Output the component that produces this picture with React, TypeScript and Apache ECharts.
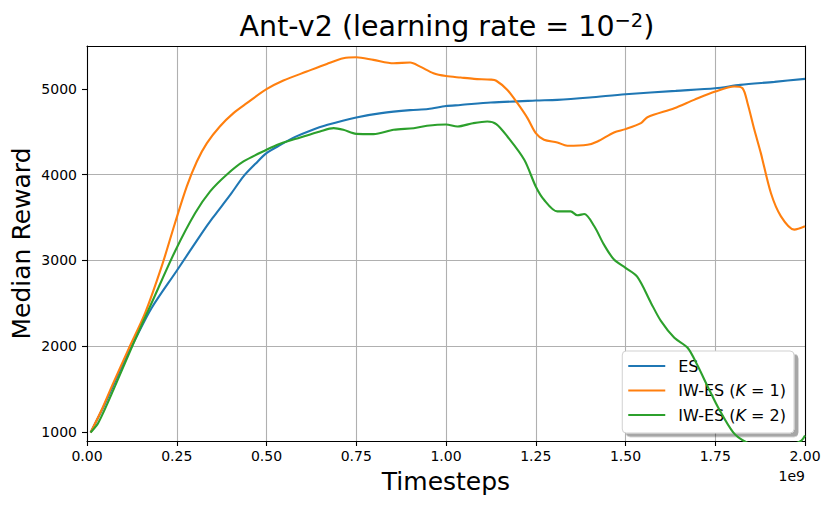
import React, { useEffect, useRef } from 'react';
import * as echarts from 'echarts';

const FONT = 'DejaVu Sans';

// x in units of 1e9 timesteps
const xTicks = [0, 0.25, 0.5, 0.75, 1.0, 1.25, 1.5, 1.75, 2.0];
const yTicks = [1000, 2000, 3000, 4000, 5000];
const seriesNames = ['ES', 'IW-ES (K = 1)', 'IW-ES (K = 2)'];
const seriesColors = ['#1f77b4', '#ff7f0e', '#2ca02c'];

const esX = [0.01, 0.05, 0.1, 0.134, 0.18, 0.25, 0.32, 0.35, 0.4, 0.436, 0.47, 0.5, 0.54, 0.58, 0.62, 0.67, 0.75, 0.82, 0.9, 0.95, 1.0, 1.04, 1.125, 1.25, 1.31, 1.4, 1.5, 1.64, 1.75, 1.82, 1.915, 2.0];
const esY = [995, 1330, 1790, 2077, 2446, 2880, 3318, 3495, 3770, 3980, 4130, 4251, 4350, 4440, 4510, 4581, 4667, 4717, 4752, 4765, 4800, 4812, 4841, 4864, 4872, 4900, 4938, 4977, 5008, 5047, 5082, 5117];

const k1X = [0.01, 0.04, 0.07, 0.115, 0.162, 0.208, 0.245, 0.278, 0.306, 0.334, 0.37, 0.408, 0.445, 0.5, 0.547, 0.612, 0.668, 0.714, 0.75, 0.798, 0.854, 0.9, 0.928, 0.965, 1.0, 1.041, 1.078, 1.125, 1.14, 1.171, 1.199, 1.227, 1.25, 1.273, 1.31, 1.338, 1.394, 1.422, 1.468, 1.5, 1.543, 1.561, 1.636, 1.691, 1.75, 1.803, 1.826, 1.84, 1.859, 1.877, 1.905, 1.933, 1.97, 2.0];
const k1Y = [995, 1250, 1540, 1961, 2388, 2930, 3434, 3863, 4154, 4368, 4562, 4717, 4833, 4996, 5097, 5202, 5291, 5357, 5369, 5338, 5299, 5307, 5260, 5183, 5150, 5132, 5117, 5108, 5095, 4988, 4833, 4659, 4484, 4407, 4376, 4337, 4348, 4387, 4492, 4531, 4601, 4670, 4775, 4872, 4969, 5027, 5008, 4833, 4523, 4251, 3786, 3514, 3359, 3398];

const k2X = [0.01, 0.0316, 0.078, 0.134, 0.18, 0.245, 0.301, 0.343, 0.389, 0.436, 0.5, 0.538, 0.594, 0.649, 0.687, 0.714, 0.75, 0.798, 0.854, 0.91, 0.947, 1.0, 1.032, 1.075, 1.115, 1.14, 1.171, 1.218, 1.25, 1.273, 1.31, 1.347, 1.366, 1.385, 1.413, 1.44, 1.468, 1.5, 1.533, 1.571, 1.599, 1.636, 1.673, 1.7, 1.73, 1.76, 1.8, 1.83, 1.87, 1.93, 1.97, 1.99, 2.0];
const k2Y = [995, 1108, 1535, 2077, 2504, 3105, 3550, 3805, 3999, 4154, 4290, 4360, 4434, 4504, 4542, 4523, 4476, 4473, 4523, 4542, 4570, 4585, 4562, 4600, 4620, 4590, 4445, 4174, 3863, 3708, 3572, 3572, 3526, 3541, 3398, 3184, 3010, 2913, 2808, 2505, 2292, 2098, 1982, 1780, 1520, 1270, 995, 895, 830, 800, 860, 900, 960];

const Y_MIN = 895;
const Y_MAX = 5500;

function zip(xs: number[], ys: number[]) {
  return xs.map((x, i) => [x, ys[i]]);
}

export default function App() {
  const ref = useRef<HTMLDivElement>(null);
  useEffect(() => {
    document.body.style.margin = '0';
    const chart = echarts.init(ref.current!, null, { renderer: 'svg' });
    const data = [zip(esX, esY), zip(k1X, k1Y), zip(k2X, k2Y)];
    const gridLine = { show: true, showMinLine: false, showMaxLine: false, lineStyle: { color: '#b0b0b0', width: 1.1 } };
    chart.setOption({
      animation: false,
      grid: { left: 87, right: 25, top: 46, bottom: 65, containLabel: false },
      xAxis: [
        {
          type: 'value', min: 0, max: 2, interval: 0.25,
          axisLine: { show: true, onZero: false, lineStyle: { color: '#000', width: 1.1 } },
          axisTick: { show: true, inside: false, length: 5, lineStyle: { color: '#000', width: 1.1 }, customValues: xTicks },
          axisLabel: { show: true, margin: 8, fontSize: 14, fontFamily: FONT, color: '#000', customValues: xTicks, formatter: (v: number) => v.toFixed(2) },
          splitLine: gridLine,
        },
        {
          type: 'value', position: 'top', min: 0, max: 2,
          axisLine: { show: true, onZero: false, lineStyle: { color: '#000', width: 1.1 } },
          axisTick: { show: false }, axisLabel: { show: false }, splitLine: { show: false },
        },
      ],
      yAxis: [
        {
          type: 'value', min: Y_MIN, max: Y_MAX,
          axisLine: { show: true, onZero: false, lineStyle: { color: '#000', width: 1.1 } },
          axisTick: { show: true, inside: false, length: 5, lineStyle: { color: '#000', width: 1.1 }, customValues: yTicks },
          axisLabel: { show: true, margin: 10, fontSize: 14, fontFamily: FONT, color: '#000', customValues: yTicks, formatter: (v: number) => (v % 1000 === 0 ? String(v) : '') },
          splitLine: gridLine,
        },
        {
          type: 'value', position: 'right', min: Y_MIN, max: Y_MAX,
          axisLine: { show: true, onZero: false, lineStyle: { color: '#000', width: 1.1 } },
          axisTick: { show: false }, axisLabel: { show: false }, splitLine: { show: false },
        },
      ],
      legend: {
        orient: 'vertical',
        right: 36,
        bottom: 73,
        padding: [7, 8, 10, 6],
        itemWidth: 37,
        itemHeight: 2.1,
        itemGap: 8.5,
        icon: 'rect',
        backgroundColor: '#fff',
        borderColor: 'rgba(204,204,204,0.9)',
        borderWidth: 1,
        borderRadius: 4,
        shadowColor: 'rgba(0,0,0,0.35)',
        shadowBlur: 0,
        shadowOffsetX: 4,
        shadowOffsetY: 3.5,
        data: seriesNames,
        formatter: (name: string) => {
          if (name === 'ES') return 'ES';
          const k = name.indexOf('1') >= 0 ? '1' : '2';
          return `IW-ES ({it|K} = ${k})`;
        },
        textStyle: {
          fontSize: 16, fontFamily: FONT, color: '#000', lineHeight: 16, padding: [0, 0, 0, 8],
          rich: { it: { fontSize: 16, fontFamily: FONT, fontStyle: 'italic', color: '#000', lineHeight: 16 } },
        },
      },
      series: seriesNames.map((name, i) => ({
        name,
        type: 'line',
        data: data[i],
        showSymbol: false,
        symbol: 'none',
        smooth: 0.3,
        clip: true,
        lineStyle: { color: seriesColors[i], width: 2.1 },
        itemStyle: { color: seriesColors[i] },
        z: 3 + i,
      })),
      graphic: [
        {
          type: 'text', x: 447, y: 26,
          style: {
            text: '{n|Ant-v2 (learning rate = 10}{s|−2}{n|)}',
            align: 'center', verticalAlign: 'middle',
            fill: '#000', fontFamily: FONT, fontSize: 28.5,
            rich: {
              n: { fontSize: 28.5, fontFamily: FONT, lineHeight: 32, fill: '#000' },
              s: { fontSize: 19.5, fontFamily: FONT, lineHeight: 19, verticalAlign: 'top', fill: '#000' },
            },
          },
        },
        {
          type: 'text', x: 446, y: 481,
          style: { text: 'Timesteps', align: 'center', verticalAlign: 'middle', fill: '#000', fontFamily: FONT, fontSize: 25 },
        },
        {
          type: 'text', x: 21, y: 243.5, rotation: Math.PI / 2,
          style: { text: 'Median Reward', align: 'center', verticalAlign: 'middle', fill: '#000', fontFamily: FONT, fontSize: 25 },
        },
        {
          type: 'text', x: 805, y: 476,
          style: { text: '1e9', align: 'right', verticalAlign: 'middle', fill: '#000', fontFamily: FONT, fontSize: 14 },
        },
      ],
    });
    return () => chart.dispose();
  }, []);
  return <div ref={ref} style={{ width: 830, height: 506 }} />;
}
